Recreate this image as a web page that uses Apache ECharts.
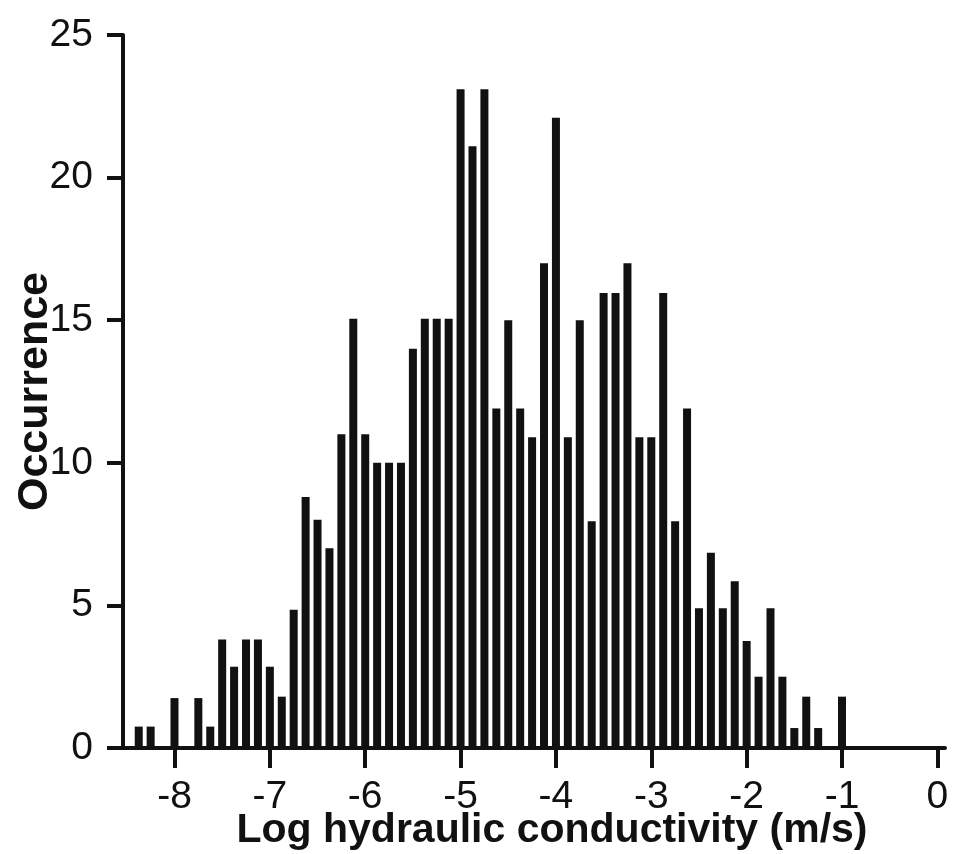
<!DOCTYPE html>
<html>
<head>
<meta charset="utf-8">
<script src="https://cdn.jsdelivr.net/npm/echarts@6/dist/echarts.min.js"></script>
<style>
html,body{margin:0;padding:0;background:#fff;}
#chart{width:954px;height:854px;}
</style>
</head>
<body>
<div id="chart"></div>
<script>
// Bin centres (log hydraulic conductivity, m/s)
var binCenters = [-8.375, -8.25, -8.0, -7.75, -7.625, -7.5, -7.375, -7.25, -7.125, -7.0,
  -6.875, -6.75, -6.625, -6.5, -6.375, -6.25, -6.125, -6.0, -5.875, -5.75,
  -5.625, -5.5, -5.375, -5.25, -5.125, -5.0, -4.875, -4.75, -4.625, -4.5,
  -4.375, -4.25, -4.125, -4.0, -3.875, -3.75, -3.625, -3.5, -3.375, -3.25,
  -3.125, -3.0, -2.875, -2.75, -2.625, -2.5, -2.375, -2.25, -2.125, -2.0,
  -1.875, -1.75, -1.625, -1.5, -1.375, -1.25, -1.0];
// Occurrence
var occurrence = [0.75, 0.75, 1.75, 1.75, 0.75, 3.8, 2.85, 3.8, 3.8, 2.85,
  1.8, 4.85, 8.8, 8.0, 7.0, 11.0, 15.05, 11.0, 10.0, 10.0,
  10.0, 14.0, 15.05, 15.05, 15.05, 23.1, 21.1, 23.1, 11.9, 15.0,
  11.9, 10.9, 17.0, 22.1, 10.9, 15.0, 7.95, 15.95, 15.95, 17.0,
  10.9, 10.9, 15.95, 7.95, 11.9, 4.9, 6.85, 4.9, 5.85, 3.75,
  2.5, 4.9, 2.5, 0.7, 1.8, 0.7, 1.8];
var xTicks = [-8, -7, -6, -5, -4, -3, -2, -1, 0];
var xTitle = 'Log hydraulic conductivity (m/s)';
var yTitle = 'Occurrence';

var seriesData = binCenters.map(function (c, i) { return [c, occurrence[i]]; });
var font = "'Liberation Sans', Arial, Helvetica, sans-serif";
var ink = '#111';

var chart = echarts.init(document.getElementById('chart'), null, {renderer: 'canvas'});
chart.setOption({
  animation: false,
  backgroundColor: '#fff',
  grid: {left: 123, right: 9, top: 35, bottom: 106, containLabel: false, outerBoundsMode: 'none'},
  xAxis: {
    type: 'value',
    min: -8.54,
    max: 0.08,
    name: xTitle,
    nameLocation: 'middle',
    nameGap: 62,
    nameMoveOverlap: false,
    nameTextStyle: {fontFamily: font, fontSize: 41, fontWeight: 'bold', color: ink, padding: [0, 0, 0, 36]},
    axisLine: {show: true, onZero: false, lineStyle: {color: ink, width: 4}},
    axisTick: {show: true, length: 20, lineStyle: {color: ink, width: 4}, customValues: xTicks},
    axisLabel: {show: true, margin: 30, fontFamily: font, fontSize: 39, color: ink, customValues: xTicks,
      formatter: function (v) { return String(v); }},
    splitLine: {show: false}
  },
  yAxis: {
    type: 'value',
    min: 0,
    max: 25,
    interval: 5,
    name: yTitle,
    nameLocation: 'middle',
    nameRotate: 90,
    nameGap: 66,
    nameMoveOverlap: false,
    nameTextStyle: {fontFamily: font, fontSize: 43, fontWeight: 'bold', color: ink},
    axisLine: {show: true, onZero: false, lineStyle: {color: ink, width: 4}},
    axisTick: {show: true, length: 16, lineStyle: {color: ink, width: 4}},
    axisLabel: {show: true, margin: 30, fontFamily: font, fontSize: 39, color: ink},
    splitLine: {show: false}
  },
  series: [{
    type: 'bar',
    data: seriesData,
    barWidth: 8,
    itemStyle: {color: ink},
    silent: true
  }]
});
</script>
</body>
</html>
